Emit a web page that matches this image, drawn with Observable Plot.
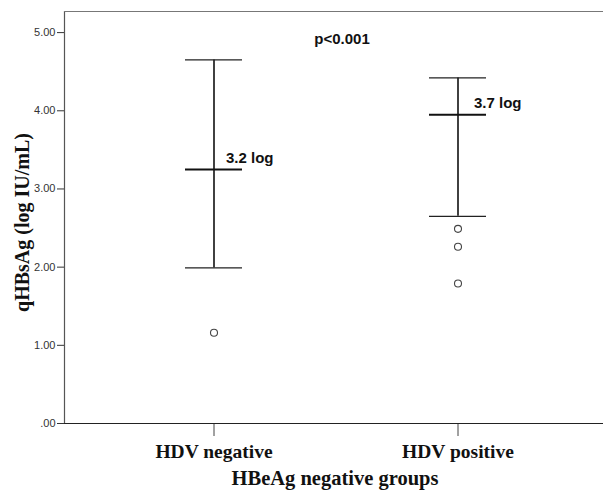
<!DOCTYPE html>
<html>
<head>
<meta charset="utf-8">
<script src="https://cdn.jsdelivr.net/npm/d3@7"></script>
<script src="https://cdn.jsdelivr.net/npm/@observablehq/plot@0.6"></script>
<style>
  body { margin: 0; background: #fff; }
  svg { display: block; }
</style>
</head>
<body>
<div id="chart"></div>
<script>
const groups = ["HDV negative", "HDV positive"];
const means = [3.25, 3.95];
const lowers = [1.99, 2.65];
const uppers = [4.65, 4.42];
const meanLabels = ["3.2 log", "3.7 log"];
const outlierGroups = ["HDV negative", "HDV positive", "HDV positive", "HDV positive"];
const outlierValues = [1.16, 2.49, 2.26, 1.79];
const yTicks = [0, 1, 2, 3, 4, 5];
const yMax = 5.27;
const pText = "p<0.001";
const xTitle = "HBeAg negative groups";
const yTitle = "qHBsAg (log IU/mL)";

const summary = groups.map((g, i) => ({group: g, mean: means[i], lo: lowers[i], hi: uppers[i], label: meanLabels[i]}));
const outliers = outlierGroups.map((g, i) => ({group: g, value: outlierValues[i]}));

const serif = "'Liberation Serif', 'Times New Roman', serif";
const sans = "'Liberation Sans', Arial, sans-serif";

const chart = Plot.plot({
  width: 603,
  height: 490,
  marginLeft: 64,
  marginRight: 0,
  marginTop: 11,
  marginBottom: 67,
  style: {fontFamily: sans, background: "#fff", overflow: "visible"},
  x: {type: "band", domain: groups, paddingInner: 0.767, paddingOuter: 0.485, align: 0.51, axis: null},
  y: {domain: [0, yMax], axis: null},
  marks: [
    Plot.axisY(yTicks, {tickSize: 7, tickPadding: 2, tickFormat: d => d === 0 ? ".00" : d.toFixed(2), fontSize: 11, fill: "#333", stroke: "#333", label: null}),
    Plot.axisX({tickSize: 13, tickPadding: 8, fontSize: 19.5, fontWeight: "bold", fontFamily: serif, fill: "#111", stroke: "#444", label: null}),
    Plot.frame({anchor: "left", stroke: "#555", strokeWidth: 1.2}),
    Plot.ruleY([yMax], {stroke: "#777", strokeWidth: 1.2}),
    Plot.ruleY([0], {stroke: "#222", strokeWidth: 1.2}),
    Plot.ruleX(summary, {x: "group", y1: "lo", y2: "hi", stroke: "#111", strokeWidth: 1.6}),
    Plot.tickY(summary, {x: "group", y: "hi", stroke: "#222", strokeWidth: 1.3}),
    Plot.tickY(summary, {x: "group", y: "lo", stroke: "#222", strokeWidth: 1.3}),
    Plot.tickY(summary, {x: "group", y: "mean", stroke: "#111", strokeWidth: 2}),
    Plot.dot(outliers, {x: "group", y: "value", r: 3.5, stroke: "#444", strokeWidth: 1.1, fill: "none"}),
    Plot.text([summary[0]], {x: "group", y: "mean", text: "label", textAnchor: "start", dx: 12, dy: -11, fontSize: 15, fontWeight: "bold", fill: "#111", fontFamily: sans}),
    Plot.text([summary[1]], {x: "group", y: "mean", text: "label", textAnchor: "start", dx: 16, dy: -12, fontSize: 15, fontWeight: "bold", fill: "#111", fontFamily: sans}),
    Plot.text([pText], {text: d => d, frameAnchor: "top", dx: 8, dy: 22, fontSize: 15, fontWeight: "bold", fill: "#111", fontFamily: sans}),
    Plot.text([xTitle], {text: d => d, frameAnchor: "bottom", dx: 1, dy: 61, fontSize: 20.5, fontWeight: "bold", fill: "#111", fontFamily: serif}),
    Plot.text([yTitle], {text: d => d, frameAnchor: "left", textAnchor: "middle", rotate: -90, dx: -42, dy: 5, fontSize: 20, fontWeight: "bold", fill: "#111", fontFamily: serif})
  ]
});
document.getElementById("chart").appendChild(chart);
</script>
</body>
</html>
